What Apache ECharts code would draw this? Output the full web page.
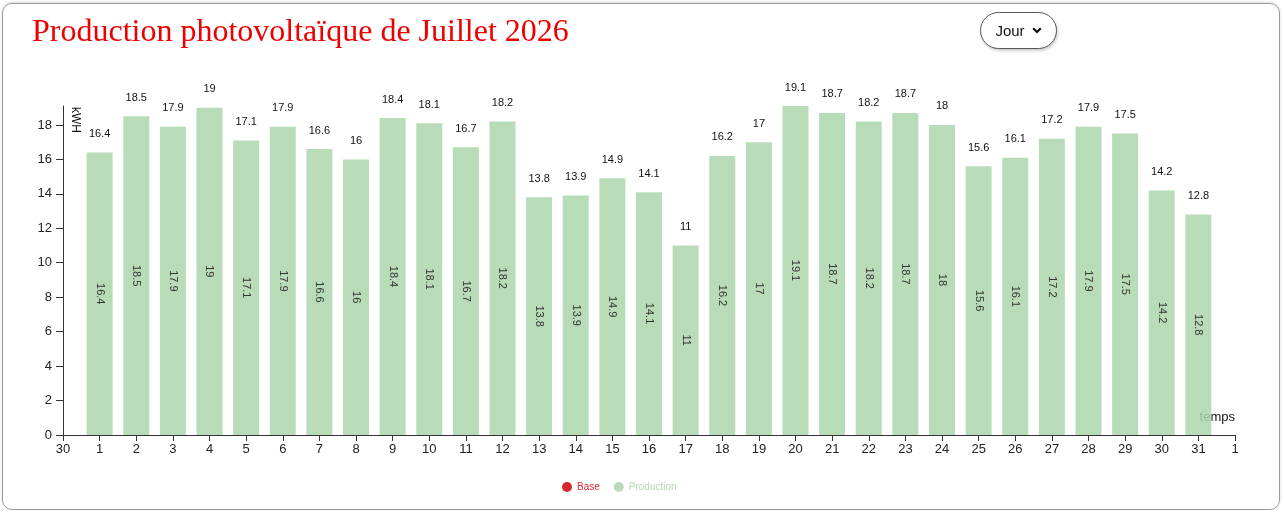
<!DOCTYPE html>
<html>
<head>
<meta charset="utf-8">
<script src="https://cdn.jsdelivr.net/npm/echarts@6/dist/echarts.min.js"></script>
<style>
  body { margin: 0; background: #fff; }
  #frame {
    position: absolute; left: 2px; top: 3px; width: 1276px; height: 505px;
    border: 1px solid #9a9a9a; border-radius: 10px;
    box-shadow: 0 -1px 3px rgba(0,0,0,0.15);
    pointer-events: none;
  }
  #chart { position: absolute; left: 0; top: 0; width: 1284px; height: 512px; }
  #jour {
    position: absolute; left: 980px; top: 12px; width: 77px; height: 37px;
    border: 1px solid #555; border-radius: 19px; box-sizing: border-box;
    box-shadow: 1px 2px 3px rgba(0,0,0,0.2);
    font: 15px Arial, "Liberation Sans", sans-serif; color: #111;
    display: flex; align-items: center; justify-content: center; gap: 7px;
    background: #fff;
  }
</style>
</head>
<body>
<div id="chart"></div>
<div id="frame"></div>
<div id="jour">Jour <svg width="10" height="7" viewBox="0 0 10 7"><path d="M1.2 1.2 L5 5 L8.8 1.2" fill="none" stroke="#111" stroke-width="2.2"/></svg></div>
<script>
  // axe des temps : 30 juin, jours de juillet, 1er août
  var jours = ['30', '1', '2', '3', '4', '5', '6', '7', '8', '9', '10', '11', '12', '13', '14', '15', '16',
    '17', '18', '19', '20', '21', '22', '23', '24', '25', '26', '27', '28', '29', '30', '31', '1'];

  // production journalière (kWh)
  var production = [null, 16.4, 18.5, 17.9, 19, 17.1, 17.9, 16.6, 16, 18.4, 18.1, 16.7, 18.2, 13.8, 13.9, 14.9, 14.1,
    11, 16.2, 17, 19.1, 18.7, 18.2, 18.7, 18, 15.6, 16.1, 17.2, 17.9, 17.5, 14.2, 12.8, null];

  var base = [];

  var police = 'Arial, "Liberation Sans", sans-serif';
  var chart = echarts.init(document.getElementById('chart'));

  var option = {
    animation: false,
    title: {
      text: 'Production photovoltaïque de Juillet 2026',
      left: 27,
      top: 12,
      textStyle: {
        fontFamily: '"Times New Roman", "Liberation Serif", serif',
        fontSize: 32,
        fontWeight: 'normal',
        color: '#ee0000'
      }
    },
    legend: {
      top: 477,
      left: 557,
      icon: 'circle',
      itemWidth: 10,
      itemHeight: 10,
      itemGap: 14,
      data: [
        { name: 'Base', textStyle: { color: '#d9262e' } },
        { name: 'Production', textStyle: { color: '#b5d9b5' } }
      ],
      textStyle: { fontSize: 10, fontFamily: police }
    },
    grid: { left: 63, right: 49, top: 106, bottom: 77 },
    xAxis: {
      type: 'category',
      data: jours,
      boundaryGap: false,
      axisLine: { lineStyle: { color: '#333' } },
      axisTick: { length: 6, lineStyle: { color: '#333' } },
      axisLabel: { interval: 0, color: '#222', fontSize: 13, fontFamily: police, margin: 8 }
    },
    yAxis: {
      type: 'value',
      min: 0,
      max: 'dataMax',
      interval: 2,
      splitLine: { show: false },
      axisLine: { show: true, lineStyle: { color: '#333' } },
      axisTick: { show: true, length: 7, lineStyle: { color: '#333' } },
      axisLabel: { color: '#222', fontSize: 13, fontFamily: police, margin: 11, showMaxLabel: false }
    },
    graphic: [
      {
        type: 'text', x: 75, y: 120, rotation: -Math.PI / 2,
        style: { text: 'kWH', fontSize: 12, fontFamily: police, fill: '#111', align: 'center', verticalAlign: 'middle' }
      },
      {
        type: 'text', x: 1235, y: 417,
        style: { text: 'temps', fontSize: 13, fontFamily: police, fill: '#111', align: 'right', verticalAlign: 'middle' }
      }
    ],
    series: [
      {
        name: 'Base',
        type: 'bar',
        stack: 'total',
        color: '#d9262e',
        data: base
      },
      {
        name: 'Production',
        type: 'bar',
        stack: 'total',
        barWidth: 26,
        color: '#b8dcb8',
        itemStyle: { color: 'rgba(172,214,172,0.85)' },
        label: {
          show: true,
          position: 'inside',
          rotate: -90,
          fontSize: 11,
          fontFamily: police,
          color: '#333'
        },
        data: production
      },
      {
        name: 'Production',
        type: 'bar',
        stack: 'etiquettes',
        barGap: '-100%',
        barWidth: 26,
        itemStyle: { color: 'transparent' },
        label: {
          show: true,
          position: 'top',
          distance: 13,
          fontSize: 11,
          fontFamily: police,
          color: '#111'
        },
        data: production,
        silent: true
      }
    ]
  };

  chart.setOption(option);
</script>
</body>
</html>
